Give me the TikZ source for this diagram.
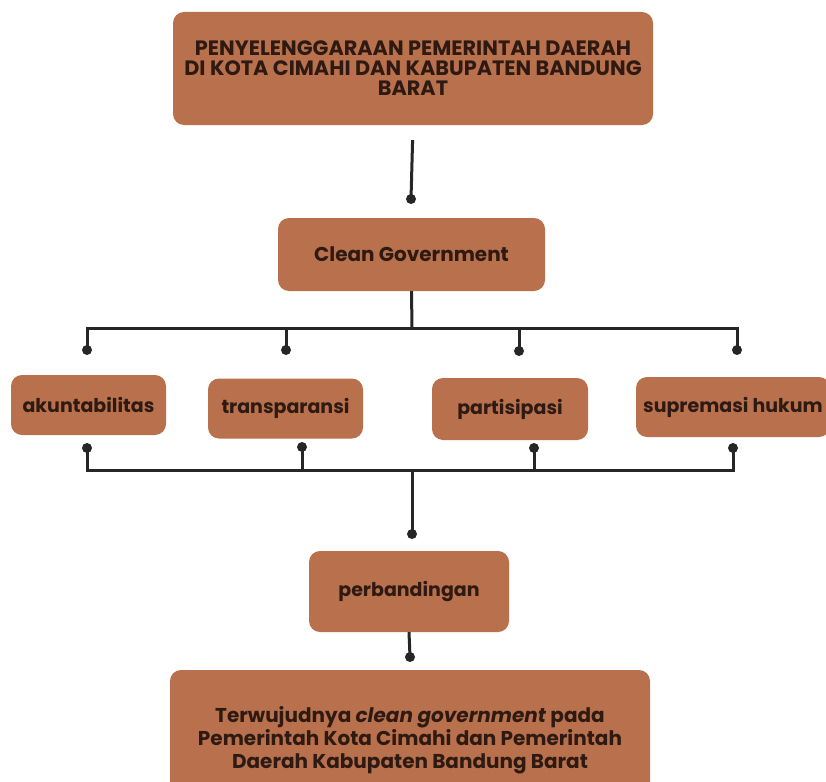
\documentclass[tikz,border=0pt]{standalone}
\usepackage{fontspec}
\setmainfont{Poppins}
\usetikzlibrary{positioning,calc}
\definecolor{Clay}{HTML}{B8714C}
\definecolor{Umber}{HTML}{2E1A12}
\definecolor{Wire}{HTML}{262626}
\tikzset{
    % brown blocks with rounded corners, no border
    blockbox/.style={
        rectangle,
        rounded corners=11pt,
        fill=Clay,
        text=Umber,
        inner sep=0pt,
        align=center,
        font=\bfseries
    },
    wire/.style={
        draw=Wire,
        line width=3pt
    },
    knob/.style={
        circle,
        fill=Wire,
        inner sep=0pt,
        minimum size=10pt
    }
}
\begin{document}
\begin{tikzpicture}[x=1pt,y=-1pt,
        headbox/.style={blockbox, minimum width=480pt, minimum height=113pt},
        itembox/.style={blockbox, minimum width=155pt, minimum height=60pt,
            font=\bfseries\fontsize{19}{21}\selectfont}
    ]
    \useasboundingbox[fill=white] (0,0) rectangle (826,781);

    \node[headbox, font=\bfseries\fontsize{20.8}{20}\selectfont] (pemda) at (413,68.5)
        {PENYELENGGARAAN PEMERINTAH DAERAH\\DI KOTA CIMAHI DAN KABUPATEN BANDUNG\\BARAT};
    \node[knob] (k0) at (411,199) {};
    \node[blockbox, minimum width=267pt, minimum height=73pt,
        font=\bfseries\fontsize{20}{22}\selectfont] (clean) at (411.5,254.5) {Clean Government};

    % four principles
    \node[itembox] (akun) at (88.5,405) {akuntabilitas};
    \node[itembox] (trans) at (285.5,408.5) {transparansi};
    \node[itembox, minimum width=156pt, minimum height=62pt] (parti) at (510,409) {partisipasi};
    \node[itembox, minimum width=194pt] (supre) at (733,407) {supremasi hukum};

    \node[knob] (ua) at (87,350) {};
    \node[knob] (ub) at (286,350) {};
    \node[knob] (uc) at (519,351) {};
    \node[knob] (ud) at (737,350) {};
    \node[knob] (la) at (87,448) {};
    \node[knob] (lb) at (302,447) {};
    \node[knob] (lc) at (534,448) {};
    \node[knob] (ld) at (733,448) {};
    \coordinate (hubup) at (412,328);
    \coordinate (hubdown) at (412,470);

    \node[knob] (k1) at (412,534) {};
    \node[blockbox, minimum width=200pt, minimum height=81pt,
        font=\bfseries\fontsize{19}{21}\selectfont] (banding) at (409,591.5) {perbandingan};
    \node[knob] (k2) at (410,657) {};
    \node[headbox, minimum height=140pt, font=\bfseries\fontsize{20}{23}\selectfont] (hasil) at (410,740)
        {Terwujudnya \textit{clean government} pada\\Pemerintah Kota Cimahi dan Pemerintah\\Daerah Kabupaten Bandung Barat};

    % Connectors
    \draw[wire, shorten <=15pt] (pemda.south) -- (k0.center);
    \draw[wire] (clean.south) -- (hubup);
    \draw[wire] (ua.center) |- (hubup) -| (ud.center);
    \draw[wire] (ub.center) -- (ub |- hubup);
    \draw[wire] (uc.center) -- (uc |- hubup);
    \draw[wire] (la.center) |- (hubdown) -| (ld.center);
    \draw[wire] (lb.center) -- (lb |- hubdown);
    \draw[wire] (lc.center) -- (lc |- hubdown);
    \draw[wire] (hubdown) -- (k1.center);
    \draw[wire] (banding.south) -- (k2.center);
\end{tikzpicture}
\end{document}
